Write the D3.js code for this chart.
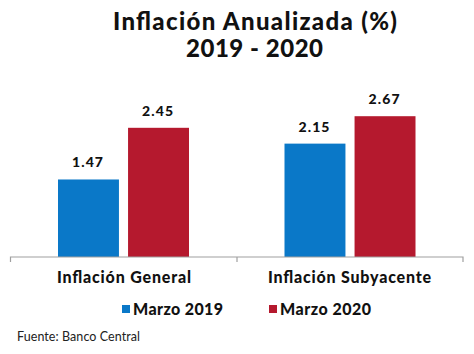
<!DOCTYPE html>
<html><head><meta charset="utf-8">
<script src="https://cdn.jsdelivr.net/npm/d3@7"></script>
<style>body{margin:0;background:#fff}svg{display:block}text{font-family:Lato,"Open Sans",sans-serif}</style>
</head><body>
<script>
const categories = ["Inflación General", "Inflación Subyacente"];
const seriesNames = ["Marzo 2019", "Marzo 2020"];
const marzo2019 = [1.47, 2.15];
const marzo2020 = [2.45, 2.67];
const titleLines = ["Inflación Anualizada (%)", "2019 - 2020"];
const source = "Fuente: Banco Central";
const colors = ["#0a78c8", "#b5192e"];

const W = 474, H = 354;
const svg = d3.select("body").append("svg").attr("width", W).attr("height", H);

const x0 = d3.scaleBand().domain(categories).range([10, 463]).paddingInner(0).paddingOuter(0);
const x1 = d3.scaleBand().domain(seriesNames).range([48, 179]).paddingInner(0.13).paddingOuter(0);
const y = d3.scaleLinear().domain([0, 3]).range([257, 98.8]);

const data = categories.map((c, i) => ({cat: c, vals: [marzo2019[i], marzo2020[i]]}));

function fit(sel, w) { return sel.attr("textLength", w).attr("lengthAdjust", "spacing"); }

// title
fit(svg.append("text").attr("x", 255).attr("y", 30).attr("text-anchor", "middle")
  .attr("font-size", 24).attr("font-weight", 900).attr("fill", "#111").text(titleLines[0]), 284);
fit(svg.append("text").attr("x", 254.5).attr("y", 57).attr("text-anchor", "middle")
  .attr("font-size", 24).attr("font-weight", 900).attr("fill", "#111").text(titleLines[1]), 137);

const g = svg.selectAll("g.cat").data(data).join("g")
  .attr("transform", d => `translate(${x0(d.cat)},0)`);

g.selectAll("rect").data(d => d.vals.map((v, j) => ({v, j}))).join("rect")
  .attr("x", d => x1(seriesNames[d.j]))
  .attr("width", x1.bandwidth())
  .attr("y", d => y(d.v))
  .attr("height", d => y(0) - y(d.v))
  .attr("fill", d => colors[d.j]);

g.selectAll("text.val").data(d => d.vals.map((v, j) => ({v, j}))).join("text")
  .attr("class", "val")
  .attr("x", d => x1(seriesNames[d.j]) + x1.bandwidth() / 2 - 1)
  .attr("y", d => y(d.v) - 12)
  .attr("text-anchor", "middle").attr("font-size", 14).attr("font-weight", 900).attr("fill", "#111")
  .attr("textLength", 31).attr("lengthAdjust", "spacing")
  .text(d => d.v.toFixed(2));

// axis
const axis = d3.axisBottom(x0).tickSize(5).tickFormat("");
const ag = svg.append("g").attr("transform", `translate(0,${y(0)})`).call(axis);
ag.select(".domain").attr("stroke", "#a0a0a0").attr("stroke-width", 1.2)
  .attr("d", `M10.5,5V0H463V5`);
ag.selectAll(".tick").remove();
ag.append("line").attr("x1", 237).attr("x2", 237).attr("y1", 0).attr("y2", 5).attr("stroke", "#a0a0a0").attr("stroke-width", 1.2);

const catW = [134, 163];
const catC = [124, 349.5];
svg.selectAll("text.cat").data(categories).join("text").attr("class", "cat")
  .attr("x", (d, i) => catC[i])
  .attr("y", 283).attr("text-anchor", "middle").attr("font-size", 16).attr("font-weight", 900).attr("fill", "#111")
  .attr("textLength", (d, i) => catW[i]).attr("lengthAdjust", "spacing")
  .text(d => d);

// legend
const legX = [122, 269];
const legW = [90, 91];
seriesNames.forEach((s, i) => {
  svg.append("rect").attr("x", legX[i]).attr("y", 305).attr("width", 8).attr("height", 8).attr("fill", colors[i]);
  fit(svg.append("text").attr("x", legX[i] + 11).attr("y", 315).attr("font-size", 16).attr("font-weight", 900)
    .attr("fill", "#111").text(s), legW[i]);
});

fit(svg.append("text").attr("x", 17).attr("y", 341).attr("font-size", 12.5).attr("fill", "#222").text(source), 123);
</script>
</body></html>
